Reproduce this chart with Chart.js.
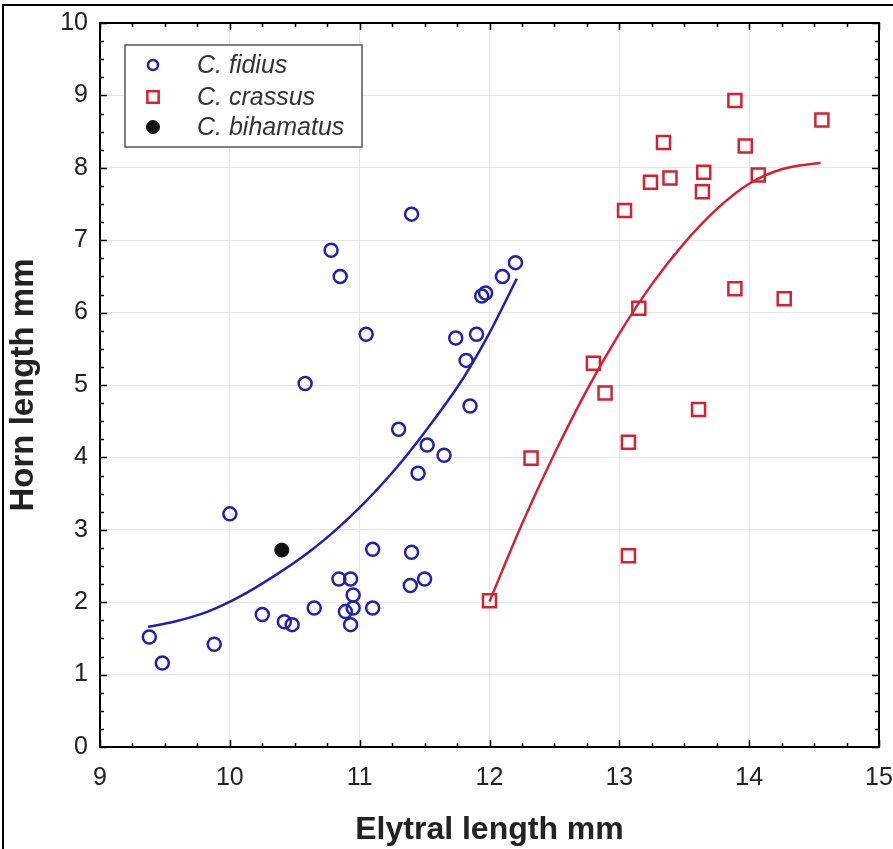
<!DOCTYPE html>
<html><head><meta charset="utf-8">
<script src="https://cdn.jsdelivr.net/npm/chart.js@4/dist/chart.umd.min.js"></script>
<style>html,body{margin:0;padding:0;background:#fff;}#wrap{position:relative;width:893px;height:849px;}</style>
</head><body><div id="wrap"><canvas id="c" width="893" height="849"></canvas></div>
<script>
// ---- data ----
const xTicks = [9, 10, 11, 12, 13, 14, 15];
const yTicks = [0, 1, 2, 3, 4, 5, 6, 7, 8, 9, 10];
const seriesNames = ['C. fidius', 'C. crassus', 'C. bihamatus'];

const fidiusX = [11.40, 10.78, 10.85, 11.05, 10.58, 12.20, 12.10, 11.97, 11.94, 11.90, 11.74, 11.82, 11.85, 11.30, 11.52, 11.65, 11.45, 10.00, 11.10, 11.40, 10.84, 10.93, 11.50, 11.39, 10.95, 10.95, 10.89, 11.10, 10.65, 10.25, 10.42, 10.48, 10.93, 9.38, 9.88, 9.48];
const fidiusY = [7.36, 6.86, 6.50, 5.70, 5.02, 6.69, 6.50, 6.27, 6.23, 5.70, 5.65, 5.34, 4.71, 4.39, 4.17, 4.03, 3.78, 3.22, 2.73, 2.69, 2.32, 2.32, 2.32, 2.23, 2.10, 1.92, 1.87, 1.92, 1.92, 1.83, 1.73, 1.69, 1.69, 1.52, 1.42, 1.16];

const crassusX = [13.89, 14.56, 13.34, 13.97, 13.65, 14.07, 13.39, 13.24, 13.64, 13.04, 13.89, 14.27, 13.15, 12.80, 12.89, 13.61, 13.07, 12.32, 13.07, 12.00];
const crassusY = [8.93, 8.66, 8.35, 8.30, 7.94, 7.90, 7.86, 7.80, 7.67, 7.41, 6.33, 6.19, 6.06, 5.30, 4.89, 4.66, 4.21, 3.99, 2.64, 2.02];

const bihamatusX = [10.40];
const bihamatusY = [2.72];

// fitted curves
const fidiusFitX = [9.37, 9.57, 9.83, 10.08, 10.34, 10.60, 10.83, 11.03, 11.29, 11.54, 11.80, 12.00, 12.21];
const fidiusFitY = [1.66, 1.73, 1.87, 2.08, 2.36, 2.68, 3.02, 3.36, 3.87, 4.44, 5.10, 5.72, 6.47];
const crassusFitX = [12.00, 12.25, 12.50, 12.75, 13.00, 13.25, 13.50, 13.75, 14.00, 14.25, 14.55];
const crassusFitY = [2.01, 3.08, 4.05, 4.93, 5.71, 6.39, 6.96, 7.43, 7.78, 7.98, 8.07];

const pts = (xs, ys) => xs.map((v, i) => ({x: v, y: ys[i]}));

const BLUE = '#2121b0';
const RED = '#d42232';
const FONT = "'Liberation Sans', Arial, sans-serif";

const decor = {
  id: 'decor',
  afterDraw(chart) {
    const {ctx, chartArea: a, scales: {x, y}} = chart;
    ctx.save();
    // outer figure border (left/top)
    ctx.strokeStyle = '#000'; ctx.lineWidth = 2;
    ctx.beginPath(); ctx.moveTo(3, 849); ctx.lineTo(3, 5); ctx.lineTo(893, 5); ctx.stroke();
    // plot frame
    ctx.lineWidth = 2;
    ctx.strokeRect(a.left, a.top, a.right - a.left, a.bottom - a.top);
    // inward ticks, minor every quarter unit
    ctx.lineWidth = 1.5;
    ctx.beginPath();
    for (let v = x.min; v <= x.max + 1e-9; v += 0.25) {
      const px = Math.round(x.getPixelForValue(v)) + 0.5;
      const len = Math.abs(v - Math.round(v)) < 1e-9 ? 7 : 4;
      ctx.moveTo(px, a.bottom); ctx.lineTo(px, a.bottom - len);
      ctx.moveTo(px, a.top); ctx.lineTo(px, a.top + len);
    }
    for (let v = y.min; v <= y.max + 1e-9; v += 0.25) {
      const py = Math.round(y.getPixelForValue(v)) + 0.5;
      const len = Math.abs(v - Math.round(v)) < 1e-9 ? 7 : 4;
      ctx.moveTo(a.left, py); ctx.lineTo(a.left + len, py);
      ctx.moveTo(a.right, py); ctx.lineTo(a.right - len, py);
    }
    ctx.stroke();
    // legend
    const L = 125, T = 45, W = 237, H = 102;
    ctx.fillStyle = '#fff';
    ctx.fillRect(L, T, W, H);
    ctx.strokeStyle = '#555'; ctx.lineWidth = 1.5;
    ctx.strokeRect(L, T, W, H);
    const ds = chart.data.datasets;
    const rows = [65, 97, 127];
    seriesNames.forEach((name, i) => {
      const d = ds[i];
      ctx.strokeStyle = d.borderColor; ctx.fillStyle = d.backgroundColor; ctx.lineWidth = d.borderWidth;
      Chart.helpers.drawPoint(ctx, {pointStyle: d.pointStyle, radius: d.legendRadius, borderWidth: d.borderWidth}, 153, rows[i]);
      ctx.fillStyle = '#333';
      ctx.font = "italic 25px " + FONT;
      ctx.textBaseline = 'middle'; ctx.textAlign = 'left';
      ctx.fillText(name, 197, rows[i] + 1);
    });
    ctx.restore();
  }
};

new Chart(document.getElementById('c'), {
  type: 'scatter',
  data: {
    datasets: [
      {label: seriesNames[0], data: pts(fidiusX, fidiusY), pointStyle: 'circle', pointRadius: 6.5, legendRadius: 5,
       borderColor: BLUE, backgroundColor: 'rgba(255,255,255,0)', borderWidth: 2.5, pointBorderWidth: 2.5},
      {label: seriesNames[1], data: pts(crassusX, crassusY), pointStyle: 'rect', pointRadius: 9.2, legendRadius: 8,
       borderColor: RED, backgroundColor: 'rgba(255,255,255,0)', borderWidth: 2.5, pointBorderWidth: 2.5},
      {label: seriesNames[2], data: pts(bihamatusX, bihamatusY), pointStyle: 'circle', pointRadius: 7, legendRadius: 6.5,
       borderColor: '#111', backgroundColor: '#111', borderWidth: 1},
      {label: 'fit fidius', data: pts(fidiusFitX, fidiusFitY), showLine: true, pointRadius: 0,
       borderColor: BLUE, borderWidth: 2.5, cubicInterpolationMode: 'monotone', fill: false},
      {label: 'fit crassus', data: pts(crassusFitX, crassusFitY), showLine: true, pointRadius: 0,
       borderColor: RED, borderWidth: 2.5, cubicInterpolationMode: 'monotone', fill: false}
    ]
  },
  options: {
    responsive: false,
    animation: false,
    layout: {padding: {left: 0, top: 23, right: 14, bottom: 0}},
    plugins: {legend: {display: false}, tooltip: {enabled: false}},
    scales: {
      x: {
        type: 'linear', min: xTicks[0], max: xTicks[xTicks.length - 1],
        afterBuildTicks: s => { s.ticks = xTicks.map(v => ({value: v})); },
        afterFit: s => { s.height = 102; s.paddingLeft = 0; s.paddingRight = 0; },
        grid: {color: '#e6e6e6', lineWidth: 1, drawTicks: false},
        border: {display: false},
        ticks: {font: {family: FONT, size: 25}, color: '#222', padding: 16, maxRotation: 0},
        title: {display: true, text: 'Elytral length mm', font: {family: FONT, size: 32, weight: 'bold'}, color: '#222', padding: {top: 0, bottom: 0}}
      },
      y: {
        type: 'linear', min: yTicks[0], max: yTicks[yTicks.length - 1],
        afterBuildTicks: s => { s.ticks = yTicks.map(v => ({value: v})); },
        afterFit: s => { s.width = 100; s.paddingTop = 0; s.paddingBottom = 0; },
        grid: {color: '#e6e6e6', lineWidth: 1, drawTicks: false},
        border: {display: false},
        ticks: {font: {family: FONT, size: 25}, color: '#222', padding: 12},
        title: {display: true, text: 'Horn length mm', font: {family: FONT, size: 33, weight: 'bold'}, color: '#222', padding: {top: 4, bottom: 0}}
      }
    }
  },
  plugins: [decor]
});
</script>
</body></html>
